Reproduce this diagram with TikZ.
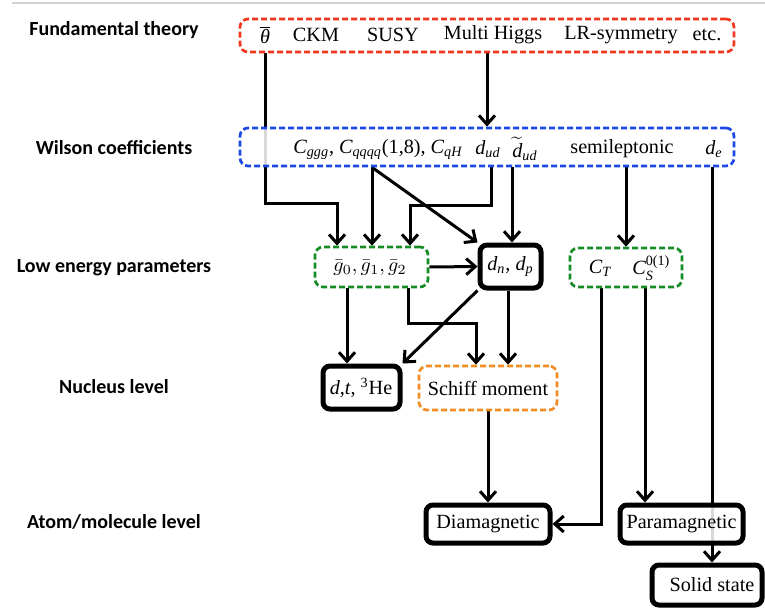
\documentclass[tikz,border=0pt]{standalone}
\usepackage{amsmath}
\usepackage[no-math]{fontspec}
\setmainfont{Liberation Serif}
\newfontfamily\labelfont{Carlito}
\usetikzlibrary{positioning}
\usetikzlibrary{calc}
\usetikzlibrary{arrows.meta}
\usetikzlibrary{backgrounds}
\definecolor{fundred}{RGB}{240,56,30}
\definecolor{wilsonblue}{RGB}{30,72,230}
\definecolor{lowgreen}{RGB}{22,140,38}
\definecolor{schifforange}{RGB}{242,140,36}
\newcommand{\tsub}[2]{$\textit{#1}_{\textit{#2}}$}

\begin{document}
\begin{tikzpicture}[x=0.5pt, y=-0.5pt,
    every node/.style={font=\fontsize{10.1}{12}\selectfont, inner sep=0pt},
    level/.style={font=\fontsize{10}{12}\selectfont\labelfont\bfseries},
    solidbox/.style={draw, line width=2.5pt, rounded corners=3.5pt, fill=white, fill opacity=0.85},
    dashbox/.style={draw=#1, line width=1.35pt, dash pattern=on 3pt off 1.5pt, rounded corners=4pt, fill=white, fill opacity=0.85},
    arr/.style={line width=1.5pt, -{Straight Barb[length=4.5pt,width=8pt]}}]
    \useasboundingbox (0,0) rectangle (765,611);
    \draw[gray!35, line width=0.6pt] (12,3) -- (765,3);
    % level names
    \node[level] (ftlab) at (114,30) {Fundamental theory};
    \node[level] (wclab) at (114,148) {Wilson coefficients};
    \node[level] (leplab) at (114,268) {Low energy parameters};
    \node[level] (nuclab) at (114,387) {Nucleus level};
    \node[level] (atomlab) at (114,522) {Atom/molecule level};
    % boxes
    \node[dashbox=fundred, minimum width=247pt, minimum height=16.5pt] (ft) at (487,35.5) {};
    \node[dashbox=wilsonblue, minimum width=247pt, minimum height=19pt] (wc) at (487,147) {};
    \node[dashbox=lowgreen, minimum width=56.5pt, minimum height=20pt] (lep) at (371.5,267) {};
    \node[solidbox, minimum width=30.5pt, minimum height=21.5pt] (dn) at (510.5,266.5) {};
    \node[dashbox=lowgreen, minimum width=56pt, minimum height=19.5pt] (cts) at (626,267.5) {};
    \node[solidbox, minimum width=38.5pt, minimum height=21.5pt] (dt) at (361.5,387.5) {};
    \node[dashbox=schifforange, minimum width=69pt, minimum height=22pt] (sch) at (488,388) {};
    \node[solidbox, minimum width=62pt, minimum height=19pt] (dia) at (488,524) {};
    \node[solidbox, minimum width=61.5pt, minimum height=19pt] (para) at (681.5,524) {};
    \node[solidbox, minimum width=55pt, minimum height=20pt] (ss) at (707,585) {};
    % texts
    \node (theta) at (265,35) {$\overline{\textit{θ}}$};
    \node (ckm) at (316,35) {CKM};
    \node (susy) at (393,35) {SUSY};
    \node (higgs) at (493,35) {Multi Higgs};
    \node (lr) at (621,35) {LR-symmetry};
    \node (etc) at (707,35) {etc.};
    \node[anchor=west] (cops) at (293,149) {\tsub{C}{ggg}, \tsub{C}{qqqq}(1,8), \tsub{C}{qH}};
    \node (dud) at (488,149) {\tsub{d}{ud}};
    \node (tdud) at (525,149) {$\widetilde{\textit{d}}_{\textit{ud}}$};
    \node (semi) at (622,149) {semileptonic};
    \node (de) at (714,149) {\tsub{d}{e}};
    \node (gbar) at (370,268) {$\bar{g}_0, \bar{g}_1, \bar{g}_2$};
    \node (dnp) at (dn) {\tsub{d}{n}, \tsub{d}{p}};
    \node (ct) at (600,268) {\tsub{C}{T}};
    \node[anchor=west] (cs) at (632,268) {$\textit{C}_{\textit{S}}^{\text{0(1)}}$};
    \node (dthe) at (361,388) {\textit{d},\textit{t}, \textsuperscript{3}He};
    \node (schiff) at (sch) {Schiff moment};
    \node (diam) at (dia) {Diamagnetic};
    \node (param) at (para) {Paramagnetic};
    \node (solid) at (712,585) {Solid state};
    % connectors
    \begin{pgfonlayer}{background}
        \draw[arr] (ft.south -| theta) |- (337,203) -- (337,0 |- lep.north);
        \draw[arr] (487,0 |- ft.south) -- (487,0 |- wc.north);
        \draw[arr] (372,0 |- wc.south) -- (372,0 |- lep.north);
        \draw[arr] (372,0 |- wc.south) -- (dn.north west);
        \draw[arr] (491,0 |- wc.south) |- (410,205) -- (410,0 |- lep.north);
        \draw[arr] (512,0 |- wc.south) -- (512,0 |- dn.north);
        \draw[arr] (626,0 |- wc.south) -- (626,0 |- cts.north);
        \draw[arr] (712,0 |- wc.south) -- (712,0 |- ss.north);
        \draw[arr] (lep.east) -- (dn.west);
        \draw[arr] (347,0 |- lep.south) -- (347,0 |- dt.north);
        \draw[arr] (408,0 |- lep.south) |- (476,323) -- (476,0 |- sch.north);
        \draw[arr] (dn.south west) -- (dt.north east);
        \draw[arr] (508,0 |- dn.south) -- (508,0 |- sch.north);
        \draw[arr] (sch.south) -- (dia.north);
        \draw[arr] (601,0 |- cts.south) |- (dia.east);
        \draw[arr] (645,0 |- cts.south) -- (645,0 |- para.north);
    \end{pgfonlayer}
\end{tikzpicture}
\end{document}
